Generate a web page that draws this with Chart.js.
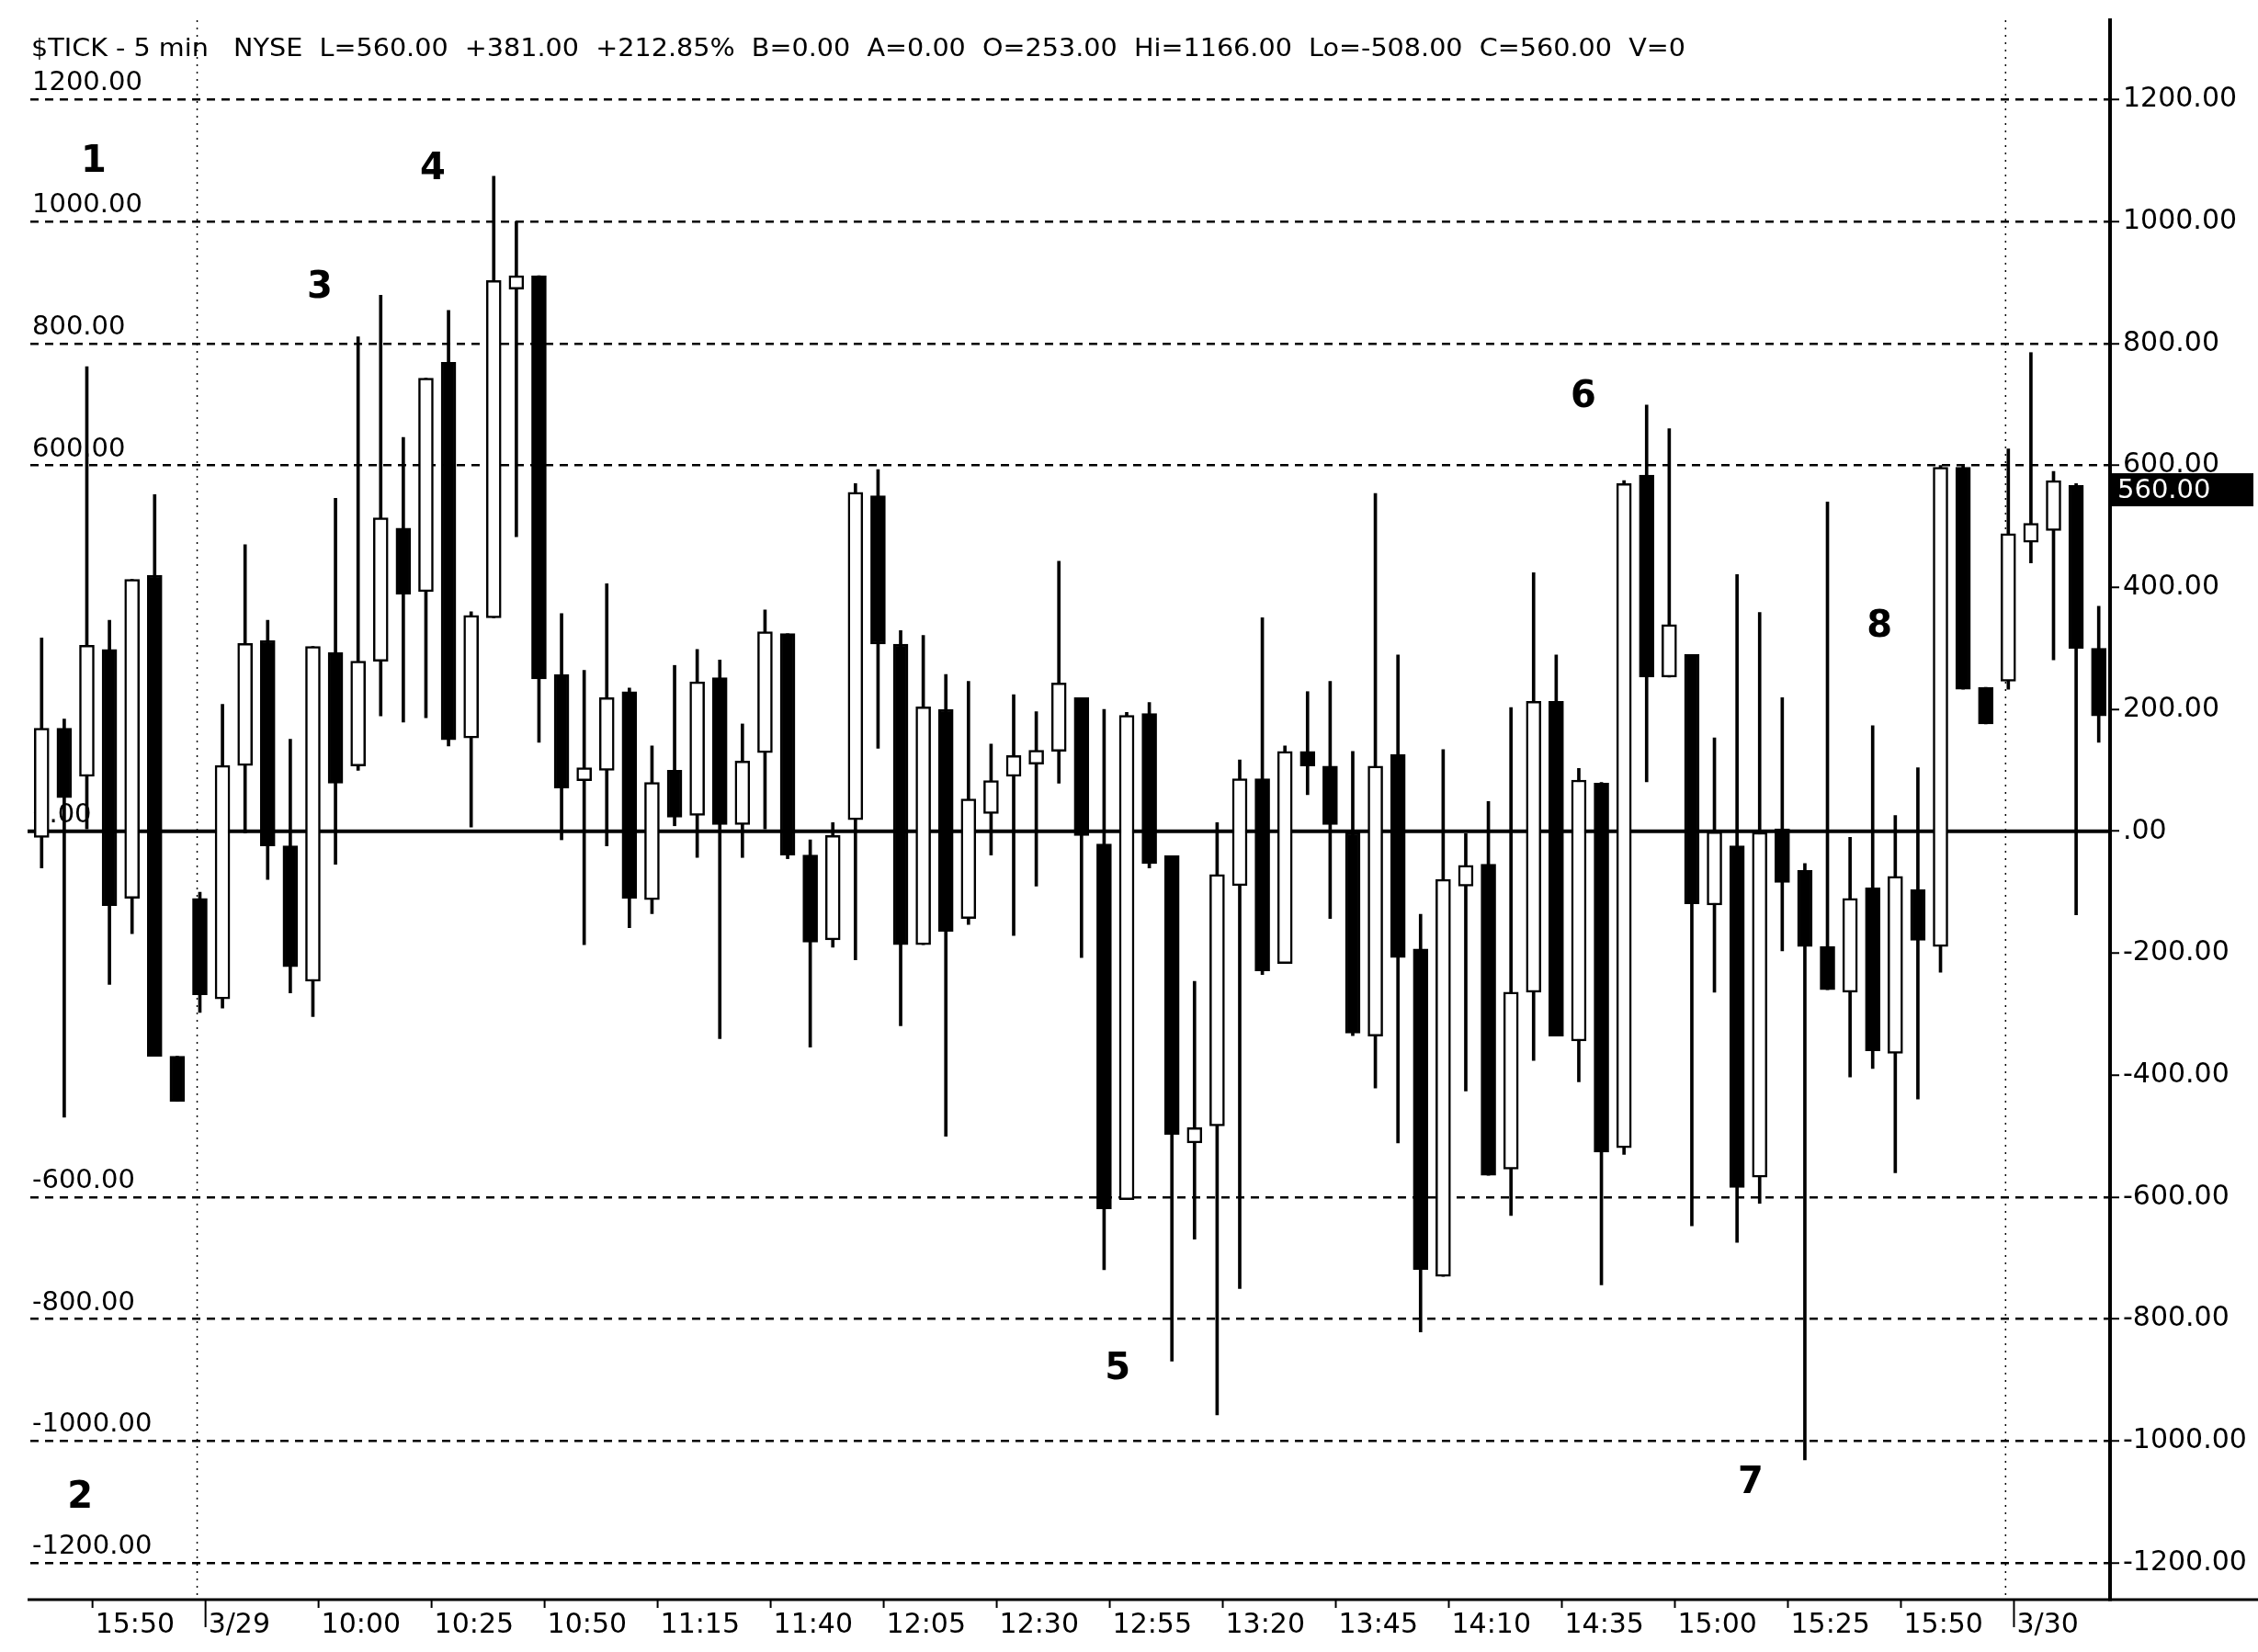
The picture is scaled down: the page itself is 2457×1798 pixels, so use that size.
<!DOCTYPE html>
<html>
<head>
<meta charset="utf-8">
<title>$TICK - 5 min</title>
<script src="https://cdn.jsdelivr.net/npm/chart.js@4.4.1/dist/chart.umd.min.js"></script>
<style>
  html, body { margin: 0; padding: 0; background: #fff; }
  canvas { display: block; }
</style>
</head>
<body>
<canvas id="tickChart" width="2457" height="1798"></canvas>
<script>
// bar times (first bar of a session carries the date)
const times = [
  '15:40','15:45','15:50','15:55','16:00','16:05','16:10',
  '3/29','9:40','9:45','9:50','9:55',
  '10:00','10:05','10:10','10:15','10:20','10:25','10:30','10:35','10:40','10:45','10:50','10:55',
  '11:00','11:05','11:10','11:15','11:20','11:25','11:30','11:35','11:40','11:45','11:50','11:55',
  '12:00','12:05','12:10','12:15','12:20','12:25','12:30','12:35','12:40','12:45','12:50','12:55',
  '13:00','13:05','13:10','13:15','13:20','13:25','13:30','13:35','13:40','13:45','13:50','13:55',
  '14:00','14:05','14:10','14:15','14:20','14:25','14:30','14:35','14:40','14:45','14:50','14:55',
  '15:00','15:05','15:10','15:15','15:20','15:25','15:30','15:35','15:40','15:45','15:50','15:55',
  '16:00','16:05','16:10',
  '3/30','9:40','9:45','9:50','9:55'
];

const opens = [
  -10, 169, 90, 298, -110, 420, -369, -110, -275, 108, 313, -24,
  -246, 293, 107, 279, 497, 393, 769, 153, 350, 889, 911, 257, 83,
  100, 229, -112, 100, 26, 252, 11, 129, 324, -39, -178, 19,
  550, 307, -186, 200, -143, 29, 90, 110, 131, 219, -21, -604, 193,
  -40, -511, -483, -89, 86, -217, 131, 107, 0, -336, 126, -193,
  -730, -90, -54, -554, -264, 213, -344, 79, -519, 584, 253, 290, -121,
  -24, -567, 4, -64, -189, -264, -93, -364, -96, -189, 597, 236,
  246, 474, 493, 567, 300
];
const highs = [
  317, 184, 762, 346, 413, 552, -369, -100, 208, 470, 346, 151,
  303, 546, 811, 879, 646, 743, 854, 360, 1074, 1000, 911, 357, 264,
  406, 235, 140, 272, 298, 281, 176, 363, 324, -14, 14, 570,
  593, 329, 321, 257, 246, 143, 224, 196, 443, 219, 200, 195, 211,
  -40, -246, 14, 117, 350, 140, 229, 246, 131, 554, 289, -136,
  134, -4, 49, 203, 424, 289, 103, 80, 575, 699, 660, 290, 153,
  421, 359, 219, -53, 540, -10, 173, 26, 104, 600, 600, 236,
  627, 785, 590, 570, 369
];
const lows = [
  -60, -469, 4, -251, -168, -369, -443, -297, -290, -3, -79, -265,
  -304, -54, 100, 189, 179, 186, 140, 7, 350, 483, 146, -14, -186,
  -24, -158, -135, 9, -43, -340, -43, 4, -45, -354, -190, -211,
  136, -319, -186, -500, -153, -39, -171, -90, 79, -207, -719, -604, -60,
  -869, -669, -957, -750, -235, -217, 60, -143, -335, -421, -511, -821,
  -730, -426, -564, -630, -376, -336, -411, -744, -530, 81, 253, -647, -264,
  -674, -610, -196, -1031, -260, -403, -389, -560, -439, -231, 233, 176,
  233, 440, 281, -137, 146
];
const closes = [
  169, 55, 305, -122, 413, -369, -443, -268, 108, 308, -24, -222,
  303, 79, 279, 514, 389, 743, 150, 354, 903, 911, 250, 71, 104,
  219, -110, 80, 23, 245, 11, 115, 327, -39, -182, -7, 556,
  307, -186, 204, -164, 53, 83, 124, 133, 243, -7, -619, 190, -53,
  -497, -486, -71, 86, -229, 131, 107, 11, -331, 107, -207, -719,
  -79, -56, -564, -264, 213, -336, 84, -526, 570, 253, 339, -119, -1,
  -584, 0, -84, -189, -260, -110, -360, -74, -179, 597, 233, 176,
  488, 505, 575, 300, 189
];

const yTicks = [1200, 1000, 800, 600, 400, 200, 0, -200, -400, -600, -800, -1000, -1200];
const gridVals = [1200, 1000, 800, 600, -600, -800, -1000, -1200];
const leftLabels = [1200, 1000, 800, 600, 0, -600, -800, -1000, -1200];
const lastValue = 560;
const header = '$TICK - 5 min   NYSE  L=560.00  +381.00  +212.85%  B=0.00  A=0.00  O=253.00  Hi=1166.00  Lo=-508.00  C=560.00  V=0';
// wave marks: text, bar position, value
const notes = [['1', 2.3, 1097], ['2', 1.7, -1094], ['3', 12.3, 890], ['4', 17.3, 1085],
               ['5', 47.6, -882], ['6', 68.2, 711], ['7', 75.6, -1070], ['8', 81.3, 335]];

const FONT = '"DejaVu Sans", sans-serif';
const bodies = opens.map((o, i) => [Math.min(o, closes[i]), Math.max(o, closes[i])]);
const wicks = lows.map((l, i) => [l, highs[i]]);
const bodyColors = opens.map((o, i) => closes[i] >= o ? '#ffffff' : '#000000');

const decor = {
    id: 'decor',
    beforeDraw(chart) {
        const ctx = chart.ctx;
        ctx.save();
        ctx.fillStyle = '#fff';
        ctx.fillRect(0, 0, chart.width, chart.height);
        ctx.restore();
    },
    beforeDatasetsDraw(chart) {
        const {ctx, chartArea: a, scales: {x, y}} = chart;
        ctx.save();
        ctx.strokeStyle = '#000';
        // day separators
        ctx.lineWidth = 1.5;
        ctx.setLineDash([2, 6]);
        times.forEach((t, i) => {
            if (i > 0 && t.includes('/')) {
                const px = x.getPixelForValue(i - 0.12);
                ctx.beginPath(); ctx.moveTo(px, a.top); ctx.lineTo(px, a.bottom); ctx.stroke();
            }
        });
        ctx.setLineDash([]);
        // zero line
        const y0 = y.getPixelForValue(0);
        ctx.lineWidth = 4;
        ctx.beginPath(); ctx.moveTo(a.left - 3, y0); ctx.lineTo(a.right, y0); ctx.stroke();
        // labels on the left, sitting on the grid lines
        ctx.fillStyle = '#000';
        ctx.font = '29px ' + FONT;
        ctx.textAlign = 'left';
        ctx.textBaseline = 'bottom';
        leftLabels.forEach(v => ctx.fillText(v === 0 ? '0.00' : v.toFixed(2), a.left + 2, y.getPixelForValue(v) - 3));
        ctx.restore();
    },
    afterDraw(chart) {
        const {ctx, chartArea: a, scales: {x, y}} = chart;
        ctx.save();
        ctx.fillStyle = '#000';
        ctx.strokeStyle = '#000';

        // header line
        ctx.font = '26px ' + FONT;
        ctx.textAlign = 'left';
        ctx.textBaseline = 'middle';
        const hw = ctx.measureText(header).width;
        ctx.save();
        ctx.translate(34, 54);
        ctx.scale(1800 / hw, 1);
        ctx.fillText(header, 0, 0);
        ctx.restore();

        // bottom axis
        ctx.lineWidth = 3;
        ctx.beginPath(); ctx.moveTo(a.left - 3, a.bottom); ctx.lineTo(chart.width, a.bottom); ctx.stroke();
        ctx.font = '30px ' + FONT;
        times.forEach((t, i) => {
            if (i % 5 !== 2) return;
            const px = x.getPixelForValue(i + 0.25);
            const isDay = t.includes('/');
            ctx.lineWidth = 2;
            ctx.beginPath(); ctx.moveTo(px, a.bottom); ctx.lineTo(px, a.bottom + (isDay ? 30 : 9)); ctx.stroke();
            ctx.fillText(t, px + 3, a.bottom + 28);
        });

        // wave marks
        ctx.font = 'bold 40px ' + FONT;
        ctx.textAlign = 'center';
        notes.forEach(([t, i, v]) => ctx.fillText(t, x.getPixelForValue(i), y.getPixelForValue(v)));

        // last value tag
        const ly = y.getPixelForValue(lastValue);
        ctx.fillRect(a.right - 2, ly - 18, chart.width - a.right - 3, 36);
        ctx.fillStyle = '#fff';
        ctx.font = '29px ' + FONT;
        ctx.textAlign = 'left';
        ctx.fillText(lastValue.toFixed(2), a.right + 8, ly + 1);
        ctx.restore();
    }
};

const tickChart = new Chart(document.getElementById('tickChart'), {
    type: 'bar',
    data: {
        labels: times,
        datasets: [
            { label: 'Body', data: bodies, backgroundColor: bodyColors, borderColor: '#000', borderWidth: 2.5, borderSkipped: false, barThickness: 16, grouped: false, order: 0 },
            { label: 'Wick', data: wicks, backgroundColor: '#000', borderWidth: 0, barThickness: 3, grouped: false, order: 1 }
        ]
    },
    options: {
        responsive: false,
        animation: false,
        events: [],
        layout: { padding: { left: 33, top: 14, right: 5, bottom: 57 } },
        plugins: { legend: { display: false }, tooltip: { enabled: false } },
        scales: {
            x: { type: 'category', display: false, offset: true },
            y: {
                position: 'right',
                min: -1260,
                max: 1330,
                afterBuildTicks: s => { s.ticks = yTicks.map(v => ({ value: v })); },
                afterFit: s => { s.width = 156; },
                ticks: {
                    color: '#000',
                    padding: 4,
                    font: { family: 'DejaVu Sans', size: 30 },
                    callback: v => v === 0 ? '.00' : Number(v).toFixed(2)
                },
                grid: {
                    color: c => gridVals.includes(c.tick && c.tick.value) ? '#000' : 'rgba(0,0,0,0)',
                    lineWidth: 2.5,
                    drawTicks: true,
                    tickLength: 10,
                    tickColor: '#000',
                    tickWidth: 2,
                    tickBorderDash: []
                },
                border: { display: true, color: '#000', width: 4, dash: [9, 7] }
            }
        }
    },
    plugins: [decor]
});
</script>
</body>
</html>
